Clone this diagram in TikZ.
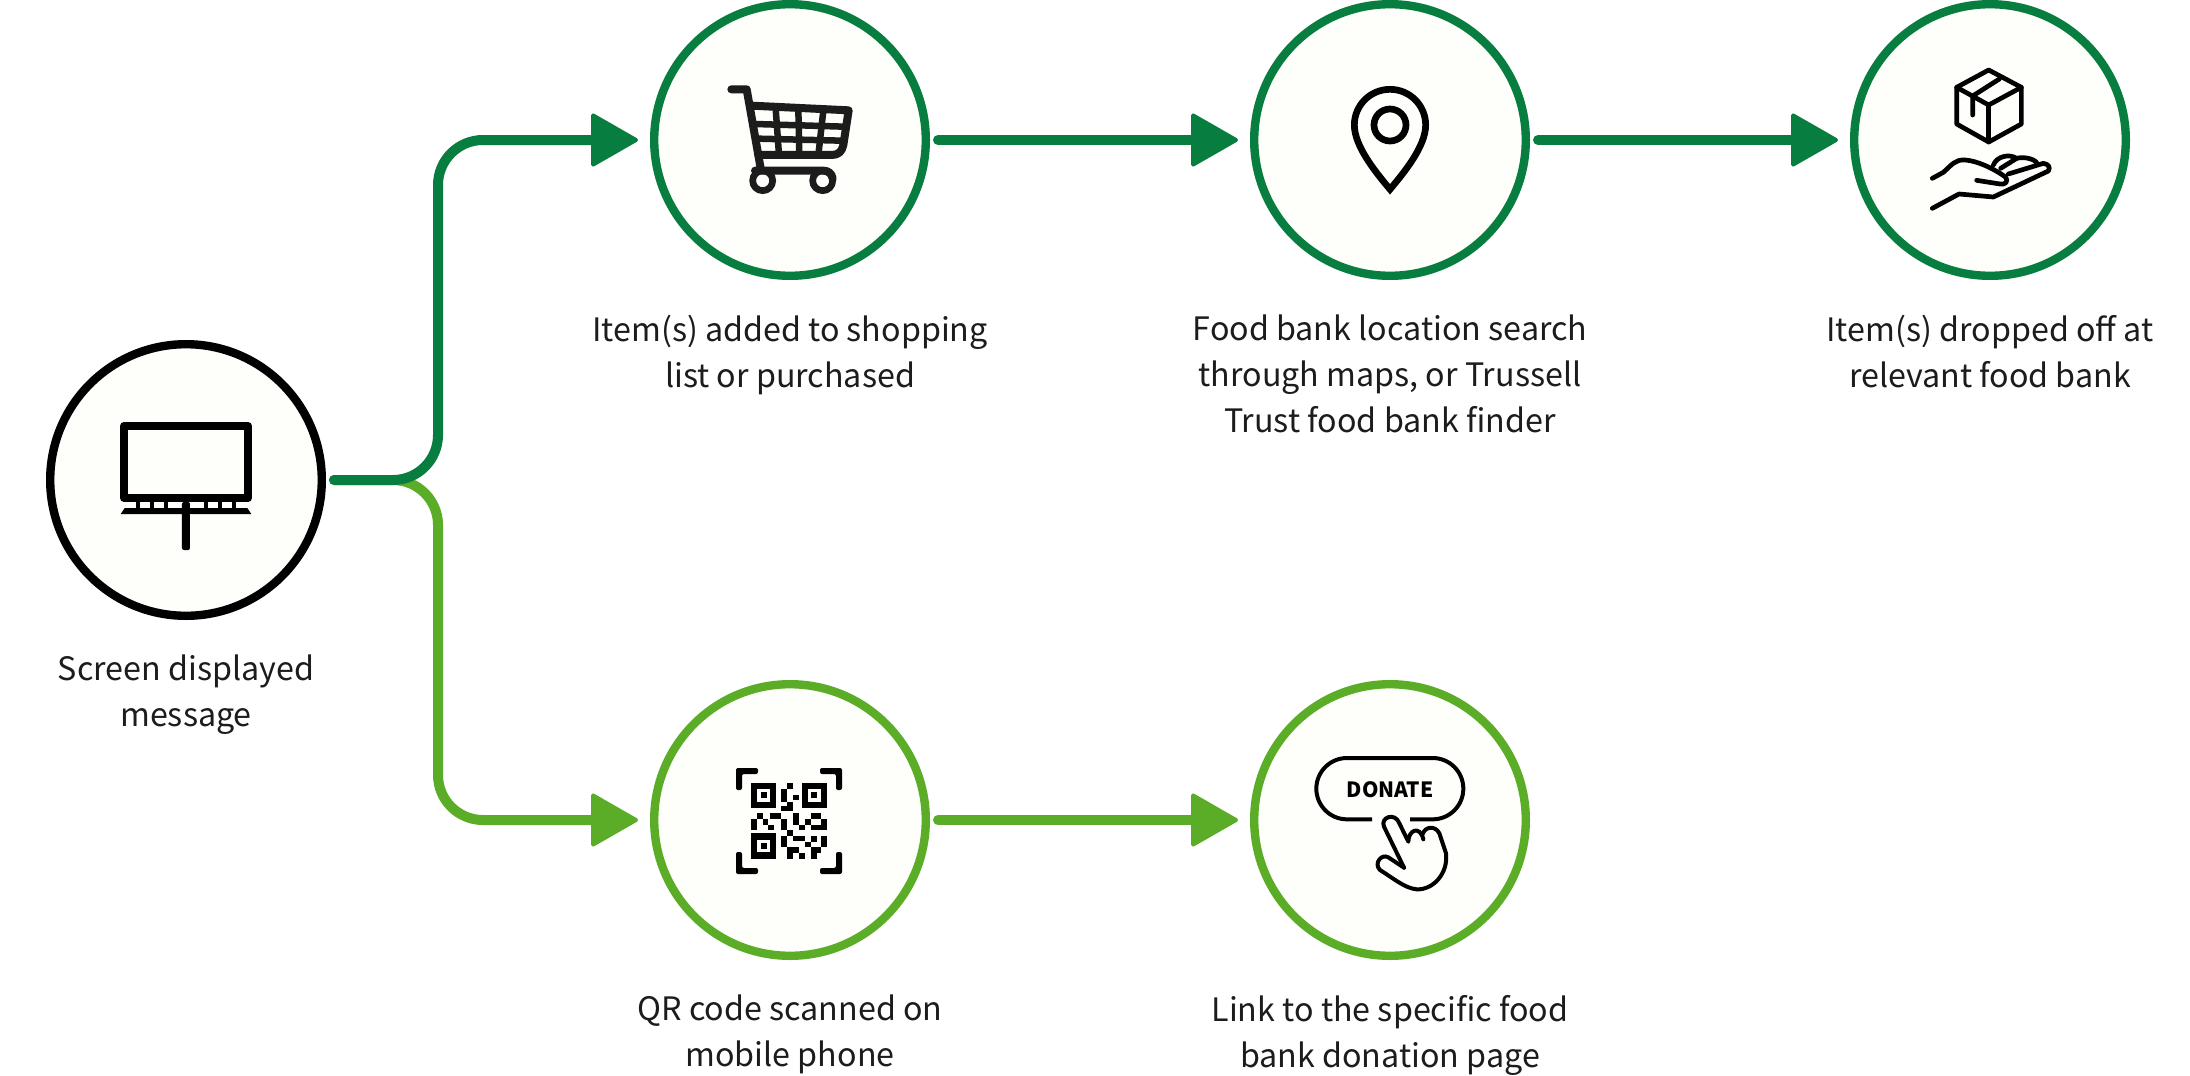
\documentclass[tikz,border=0pt]{standalone}
\usepackage{fontspec}
\setmainfont{Noto Sans CJK SC}
\usetikzlibrary{arrows.meta}
\definecolor{dkgreen}{HTML}{077D3F}
\definecolor{ltgreen}{HTML}{5BAD27}
\definecolor{disc}{HTML}{FEFFFA}
\definecolor{ink}{HTML}{1C1C1C}
\tikzset{
  stepdisc/.style={circle,draw=#1,line width=8.4pt,fill=disc,minimum size=271.6pt,inner sep=0pt},
  caption/.style={align=center,font=\fontsize{32.25pt}{45.9pt}\selectfont,text=ink,inner sep=0pt,anchor=north},
  conn/.style={draw=#1,line width=10pt,line cap=round,rounded corners=45pt,
    -{Triangle[length=49pt,width=55pt,round,line width=4pt]}},
  zoomed/.style 2 args={shift={(#1,#2)},x=0.33333pt,y=-0.33333pt},
  icon/.style={line width=#1,draw=black,line cap=round,line join=round}
}
\begin{document}
\begin{tikzpicture}[x=1pt,y=-1pt]
\useasboundingbox (0,0) rectangle (2190,1076);
\node[stepdisc=black] (scr) at (186,480) {};
\node[stepdisc=dkgreen] (cart) at (790,140) {};
\node[stepdisc=dkgreen] (pin) at (1390,140) {};
\node[stepdisc=dkgreen] (drop) at (1990,140) {};
\node[stepdisc=ltgreen] (qr) at (790,820) {};
\node[stepdisc=ltgreen] (don) at (1390,820) {};
% connectors
\coordinate (fork) at ([xshift=8pt]scr.east);
\coordinate (busx) at (438,480);
\draw[conn=ltgreen] (fork) -- (busx) -- (busx |- qr) -- ([xshift=-12pt]qr.west);
\draw[conn=dkgreen] (fork) -- (busx) -- (busx |- cart) -- ([xshift=-12pt]cart.west);
\draw[conn=dkgreen] ([xshift=8pt]cart.east) -- ([xshift=-12pt]pin.west);
\draw[conn=dkgreen] ([xshift=8pt]pin.east) -- ([xshift=-12pt]drop.west);
\draw[conn=ltgreen] ([xshift=8pt]qr.east) -- ([xshift=-12pt]don.west);
% captions
\node[caption] (t1) at (186,655) {Screen displayed\\message};
\node[caption] (t2) at (790,315) {Item(s) added to shopping\\list or purchased};
\node[caption] (t3) at (1390,315) {Food bank location search\\through maps, or Trussell\\Trust food bank finder};
\node[caption] (t4) at (1990,315) {Item(s) dropped off at\\relevant food bank};
\node[caption] (t5) at (790,995) {QR code scanned on\\mobile phone};
\node[caption] (t6) at (1390,995) {Link to the specific food\\bank donation page};
% monitor icon
\begin{scope}[zoomed={30}{330}]
\draw[line width=8pt,line join=round] (282,288) rectangle (654,504);
\fill (272,552) -- (284,534) -- (652,534) -- (664,552) -- cycle;
\foreach \a in {318,360,402,522,564,606}{\fill (\a,516) rectangle (\a+12,534);}
\fill[rounded corners=2pt] (456,516) rectangle (480,660);
\end{scope}
% cart icon
\begin{scope}[zoomed={640}{0}]
\draw[icon=8pt,draw=ink] (274,268) -- (320,268) -- (362,505);
\draw[icon=8pt,draw=ink] (335,317) -- (626,331) -- (610,435) .. controls (606,455) and (595,465) .. (575,465) -- (355,465);
\draw[icon=6.5pt,draw=ink] (345,372) -- (612,380);
\draw[icon=6.5pt,draw=ink] (355,416) -- (605,422);
\draw[icon=6.5pt,draw=ink] (407,325) -- (417,465);
\draw[icon=6.5pt,draw=ink] (475,328) -- (478,465);
\draw[icon=6.5pt,draw=ink] (550,332) -- (535,465);
\draw[icon=8pt,draw=ink] (345,512) -- (550,512) .. controls (565,512) and (575,520) .. (578,535);
\draw[line width=6.7pt,draw=ink] (368,542) circle[radius=30];
\draw[line width=6.7pt,draw=ink] (548,542) circle[radius=30];
\end{scope}
% pin icon
\begin{scope}[zoomed={1270}{30}]
\draw[line width=6.7pt,line join=miter] (360,478) .. controls (320,430) and (253,350) .. (253,285)
  arc[start angle=180,end angle=360,radius=107] .. controls (467,350) and (400,430) .. cycle;
\draw[line width=6.7pt] (360,285) circle[radius=48];
\end{scope}
% box and hand icon
\begin{scope}[zoomed={1880}{30}]
\draw[icon=4.7pt] (326,120) -- (424,172) -- (424,282) -- (326,336) -- (230,282) -- (230,172) -- cycle;
\draw[icon=4.7pt] (230,172) -- (326,225) -- (424,172);
\draw[icon=4.7pt] (326,225) -- (326,336);
\draw[icon=4.7pt] (358,147) -- (278,198) -- (278,255);
\draw[icon=4.7pt] (157,445) -- (190,427) .. controls (215,405) and (225,388) .. (255,390)
  .. controls (290,392) and (340,415) .. (375,440) .. controls (388,455) and (375,465) .. (360,462) -- (290,451);
\draw[icon=4.7pt] (157,535) -- (237,492) -- (340,501) -- (505,423) .. controls (512,412) and (505,402) .. (490,400)
  -- (385,432);
\draw[icon=4.7pt] (340,405) .. controls (350,380) and (385,370) .. (410,385) -- (362,415);
\draw[icon=4.7pt] (410,385) .. controls (430,380) and (460,385) .. (470,398);
\end{scope}
% QR icon
\begin{scope}[zoomed={680}{720}]
\fill[rounded corners=2pt] (168,210) -- (168,144) -- (234,144) -- (234,162) -- (186,162) -- (186,210) -- cycle;
\fill[rounded corners=2pt] (486,210) -- (486,144) -- (420,144) -- (420,162) -- (468,162) -- (468,210) -- cycle;
\fill[rounded corners=2pt] (168,396) -- (168,462) -- (234,462) -- (234,444) -- (186,444) -- (186,396) -- cycle;
\fill[rounded corners=2pt] (486,396) -- (486,462) -- (420,462) -- (420,444) -- (468,444) -- (468,396) -- cycle;
\foreach \a/\b in {213/188,365/188,213/340}{
  \draw[line width=6.3pt] (\a+9.5,\b+9.5) rectangle (\a+66.5,\b+66.5);
  \fill (\a+29,\b+29) rectangle (\a+47,\b+47);
}
\foreach \a/\b/\c/\d in {320/188/338/207,302/207/320/226,302/226/320/245,338/226/356/241,320/245/338/264,
  302/258/338/273,232/278/248/296,270/278/302/296,338/278/356/296,392/278/424/296,
  213/296/232/314,248/296/264/314,302/296/320/314,338/296/356/314,374/296/392/314,424/296/441/314,
  213/314/232/330,264/314/283/330,302/314/320/330,356/314/374/330,392/314/441/330,
  320/330/338/348,302/348/320/366,338/348/374/362,392/348/410/366,424/348/441/366,
  302/366/320/382,374/366/392/382,424/366/441/382,
  320/382/356/398,392/382/424/398,356/398/374/416,392/398/410/416,320/398/338/416}{
  \fill (\a,\b) rectangle (\c,\d);
}
\end{scope}
% donate icon
\begin{scope}[zoomed={1280}{730}]
\draw[line width=4pt] (276,268) -- (201,268) arc[start angle=90,end angle=270,radius=92] -- (458,84)
  arc[start angle=270,end angle=450,radius=92] -- (390,268);
\node[font=\fontsize{21pt}{21pt}\bfseries\selectfont,text=black,inner sep=0pt] (dtext) at (330,180) {DONATE};
\draw[icon=4pt] (372,413) -- (312,290) .. controls (300,262) and (345,245) .. (358,280) -- (385,335)
  .. controls (385,300) and (420,285) .. (430,328);
\draw[icon=4pt] (428,312) .. controls (435,290) and (465,285) .. (478,310) -- (498,370)
  .. controls (505,430) and (460,480) .. (410,478) .. controls (375,475) and (340,445) .. (300,420)
  .. controls (280,400) and (305,370) .. (325,382) -- (372,413);
\end{scope}
\end{tikzpicture}
\end{document}
